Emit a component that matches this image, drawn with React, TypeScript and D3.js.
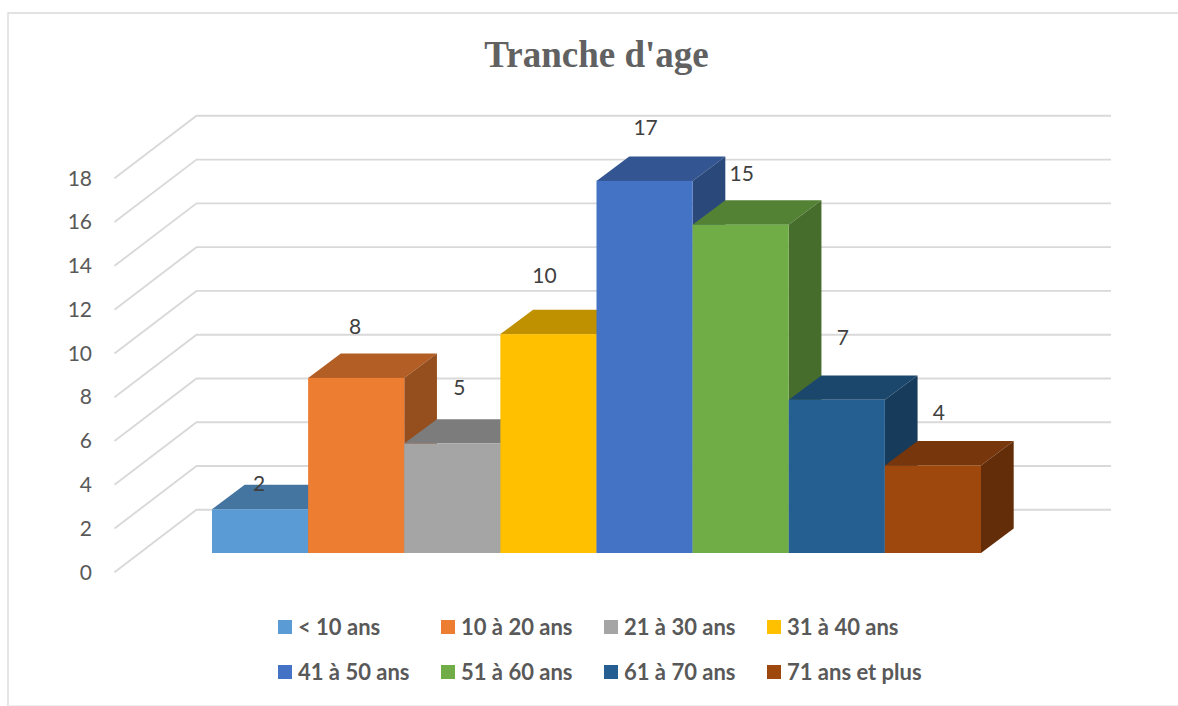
import React from "react";
import * as d3 from "d3";

const chartTitle = "Tranche d'age";
const categories = ["< 10 ans", "10 à 20 ans", "21 à 30 ans", "31 à 40 ans", "41 à 50 ans", "51 à 60 ans", "61 à 70 ans", "71 ans et plus"];
const values = [2, 8, 5, 10, 17, 15, 7, 4];
const colors = ["#5b9bd5", "#ed7d31", "#a5a5a5", "#ffc000", "#4472c4", "#70ad47", "#255e91", "#9e480e"];
const ticks = [0, 2, 4, 6, 8, 10, 12, 14, 16, 18];

// Data labels sit at hand-placed offsets from the top centre of each bar's front face.
const labelDx = [-1, -1, 7, -4, 1, 1, 6, 6];
const labelDy = [-26, -51, -56, -59, -53, -51, -62, -53];
const legendColumns = [278, 441, 604, 767];
const legendRows = [627, 672];

const WIDTH = 1178;
const HEIGHT = 706;
const FONT = "Lato, Carlito, 'Open Sans', sans-serif";

// Oblique projection: the front plane is offset from the back wall by this vector.
const depthX = 32.7;
const depthY = 24.4;
const wallX = 82;
const wallY = 62.5;

const yBack = d3.scaleLinear().domain([0, 18]).range([509.8, 115.8]);
const yFront = d3.scaleLinear().domain([0, 18]).range([553, 159]);
const x = d3.scaleBand<string>().domain(categories).range([212, 981]).padding(0);

const shade = (hex: string, k: number) => {
  const c = d3.rgb(hex);
  return d3.rgb(c.r * k, c.g * k, c.b * k).formatHex();
};

const polygon = (points: [number, number][]) => {
  const p = d3.path();
  points.forEach(([px, py], i) => (i ? p.lineTo(px, py) : p.moveTo(px, py)));
  p.closePath();
  return p.toString();
};

export default function App() {
  const wallLeft = 196.5;
  const wallRight = 1111;
  return (
    <svg
      width={WIDTH}
      height={HEIGHT}
      viewBox={`0 0 ${WIDTH} ${HEIGHT}`}
      style={{ position: "absolute", left: 0, top: 0, background: "#fff" }}
    >
      {/* chart frame */}
      <path d={`M${WIDTH},13 H8 V${HEIGHT}`} fill="none" stroke="#d9d9d9" strokeWidth={1.3} />
      <path d={`M8,705.5 H${WIDTH}`} fill="none" stroke="#efefef" strokeWidth={1} />

      <text x={596.5} y={67} textAnchor="middle" fontFamily="'Liberation Serif', serif" fontWeight={700} fontSize={37} fill="#616161">
        {chartTitle}
      </text>

      {/* back wall and side wall gridlines */}
      {ticks.map((t) => {
        const yb = yBack(t);
        return (
          <g key={t}>
            <path
              d={`M${wallLeft - wallX},${yb + wallY} L${wallLeft},${yb} H${wallRight}`}
              fill="none"
              stroke="#d9d9d9"
              strokeWidth={1.9}
            />
            <text x={92} y={yb + wallY - 0.3} dy="0.36em" textAnchor="end" fontFamily={FONT} fontSize={21} fill="#595959">
              {t}
            </text>
          </g>
        );
      })}

      {/* bars, painted left to right so each one overlaps the previous */}
      {categories.map((c, i) => {
        const x0 = x(c)!;
        const x1 = x0 + x.bandwidth();
        const top = yFront(values[i]);
        const base = yFront(0);
        return (
          <g key={c}>
            <path
              d={polygon([[x0, top], [x0 + depthX, top - depthY], [x1 + depthX, top - depthY], [x1, top]])}
              fill={shade(colors[i], 0.75)}
            />
            <path
              d={polygon([[x1, top], [x1 + depthX, top - depthY], [x1 + depthX, base - depthY], [x1, base]])}
              fill={shade(colors[i], 0.63)}
            />
            <rect x={x0} y={top} width={x.bandwidth()} height={base - top} fill={colors[i]} />
          </g>
        );
      })}

      {/* value labels */}
      {categories.map((c, i) => (
        <text
          key={c}
          x={x(c)! + x.bandwidth() / 2 + labelDx[i]}
          y={yFront(values[i]) + labelDy[i]}
          dy="0.36em"
          textAnchor="middle"
          fontFamily={FONT}
          fontSize={21}
          fill="#404040"
        >
          {values[i]}
        </text>
      ))}

      {/* legend: two rows of four */}
      {categories.map((c, i) => {
        const lx = legendColumns[i % 4];
        const ly = legendRows[Math.floor(i / 4)];
        return (
          <g key={c}>
            <rect x={lx} y={ly - 7} width={14} height={14} fill={colors[i]} />
            <text x={lx + 20} y={ly} dy="0.36em" fontFamily={FONT} fontWeight={700} fontSize={22} fill="#595959">
              {c}
            </text>
          </g>
        );
      })}
    </svg>
  );
}
